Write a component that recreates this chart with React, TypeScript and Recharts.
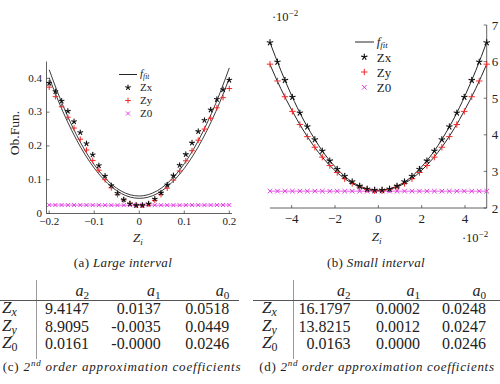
import React from "react";
import { ComposedChart, Line, Scatter, XAxis, YAxis } from "recharts";

const SERIF = '"Liberation Serif", "DejaVu Serif", serif';
const FIT_COLOR = "#262626";
const AXIS_COLOR = "#3a3a3a";
const RED = "#f02a2a";
const MAGENTA = "#e03ee0";
const TICK_MARGIN = 4;

// ---- (a) large interval: Z_i in [-0.2, 0.2]
const largeX = [
  -0.2, -0.1862, -0.1724, -0.1586, -0.1448, -0.131, -0.1172, -0.1034, -0.0897, -0.0759,
  -0.0621, -0.0483, -0.0345, -0.0207, -0.0069, 0.0069, 0.0207, 0.0345, 0.0483, 0.0621,
  0.0759, 0.0897, 0.1034, 0.1172, 0.131, 0.1448, 0.1586, 0.1724, 0.1862, 0.2,
];
const largeZx = [
  0.386, 0.361, 0.333, 0.303, 0.272, 0.24, 0.207, 0.174, 0.142, 0.111,
  0.083, 0.06, 0.041, 0.029, 0.024, 0.024, 0.029, 0.043, 0.061, 0.085,
  0.112, 0.143, 0.175, 0.209, 0.243, 0.276, 0.307, 0.338, 0.367, 0.395,
];
const largeZy = [
  0.374, 0.346, 0.316, 0.285, 0.253, 0.22, 0.188, 0.157, 0.128, 0.1,
  0.076, 0.056, 0.04, 0.03, 0.025, 0.025, 0.029, 0.039, 0.056, 0.075,
  0.099, 0.126, 0.156, 0.186, 0.217, 0.25, 0.282, 0.313, 0.343, 0.37,
];
const largeZ0 = [
  0.0252, 0.0252, 0.0251, 0.025, 0.0249, 0.0249, 0.0248, 0.0248, 0.0247, 0.0247,
  0.0247, 0.0246, 0.0246, 0.0246, 0.0246, 0.0246, 0.0246, 0.0246, 0.0246, 0.0247,
  0.0247, 0.0247, 0.0248, 0.0248, 0.0249, 0.0249, 0.025, 0.0251, 0.0252, 0.0252,
];
const largeFitX = [
  -0.2, -0.18, -0.16, -0.14, -0.12, -0.1, -0.08, -0.06, -0.04, -0.02, 0,
  0.02, 0.04, 0.06, 0.08, 0.1, 0.12, 0.14, 0.16, 0.18, 0.2,
];
const largeFitZx = [
  0.4257, 0.3544, 0.2906, 0.2344, 0.1857, 0.1446, 0.111, 0.0849, 0.0663, 0.0553, 0.0518,
  0.0558, 0.0674, 0.0865, 0.1131, 0.1473, 0.189, 0.2383, 0.295, 0.3593, 0.4311,
];
const largeFitZy = [
  0.402, 0.3342, 0.2735, 0.22, 0.1736, 0.1344, 0.1022, 0.0772, 0.0593, 0.0485, 0.0449,
  0.0484, 0.059, 0.0768, 0.1017, 0.1337, 0.1728, 0.219, 0.2724, 0.3329, 0.4006,
];
const largeXTicks = [-0.2, -0.1, 0, 0.1, 0.2];
const largeYTicks = [0, 0.1, 0.2, 0.3, 0.4];

// ---- (b) small interval: both axes in units of 10^-2
const smallX = [
  -5, -4.655, -4.31, -3.966, -3.621, -3.276, -2.931, -2.586, -2.241, -1.897,
  -1.552, -1.207, -0.862, -0.517, -0.172, 0.172, 0.517, 0.862, 1.207, 1.552,
  1.897, 2.241, 2.586, 2.931, 3.276, 3.621, 3.966, 4.31, 4.655, 5,
];
const smallZx = [
  6.52, 5.99, 5.49, 5.03, 4.6, 4.22, 3.87, 3.56, 3.29, 3.06,
  2.87, 2.72, 2.6, 2.52, 2.49, 2.49, 2.52, 2.6, 2.72, 2.87,
  3.06, 3.29, 3.56, 3.87, 4.22, 4.6, 5.03, 5.49, 5.99, 6.52,
];
const smallZy = [
  5.93, 5.47, 5.04, 4.64, 4.28, 3.95, 3.66, 3.39, 3.16, 2.97,
  2.8, 2.67, 2.57, 2.51, 2.47, 2.47, 2.51, 2.57, 2.67, 2.8,
  2.97, 3.16, 3.39, 3.66, 3.95, 4.28, 4.64, 5.04, 5.47, 5.93,
];
const smallZ0 = [
  2.46, 2.46, 2.46, 2.46, 2.46, 2.46, 2.46, 2.46, 2.46, 2.46,
  2.46, 2.46, 2.46, 2.46, 2.46, 2.46, 2.46, 2.46, 2.46, 2.46,
  2.46, 2.46, 2.46, 2.46, 2.46, 2.46, 2.46, 2.46, 2.46, 2.46,
];
const smallFitX = [
  -5, -4.5, -4, -3.5, -3, -2.5, -2, -1.5, -1, -0.5, 0,
  0.5, 1, 1.5, 2, 2.5, 3, 3.5, 4, 4.5, 5,
];
const smallFitZx = [
  6.52, 5.76, 5.07, 4.46, 3.94, 3.49, 3.13, 2.84, 2.64, 2.52, 2.48,
  2.52, 2.64, 2.84, 3.13, 3.49, 3.94, 4.46, 5.07, 5.76, 6.53,
];
const smallFitZy = [
  5.92, 5.26, 4.68, 4.16, 3.71, 3.33, 3.02, 2.78, 2.61, 2.5, 2.47,
  2.51, 2.61, 2.78, 3.03, 3.34, 3.72, 4.17, 4.69, 5.27, 5.93,
];
const smallXTicks = [-4, -2, 0, 2, 4];
const smallYTicks = [2, 3, 4, 5, 6, 7];

// ---- coefficient tables
const rowSubs = ["x", "y", "0"];
const largeA2 = ["9.4147", "8.9095", "0.0161"];
const largeA1 = ["0.0137", "-0.0035", "-0.0000"];
const largeA0 = ["0.0518", "0.0449", "0.0246"];
const smallA2 = ["16.1797", "13.8215", "0.0163"];
const smallA1 = ["0.0002", "0.0012", "0.0000"];
const smallA0 = ["0.0248", "0.0247", "0.0246"];

const pts = (xs: number[], ys: number[]) => xs.map((x, i) => ({ x, y: ys[i] }));
const fitRows = (xs: number[], zx: number[], zy: number[]) =>
  xs.map((x, i) => ({ x, zx: zx[i], zy: zy[i] }));

const fmtTick = (v: number) => (v < 0 ? `\u2212${Math.abs(v)}` : `${v}`);

// ---- marks
function StarMark({ cx, cy, r }: { cx: number; cy: number; r: number }) {
  const arms = [0, 72, 144, 216, 288].map((a) => {
    const t = ((a - 90) * Math.PI) / 180;
    return <line key={a} x1={cx} y1={cy} x2={cx + r * Math.cos(t)} y2={cy + r * Math.sin(t)} />;
  });
  return (
    <g stroke="#111" strokeWidth={1.1} strokeLinecap="round">
      {arms}
    </g>
  );
}

function PlusMark({ cx, cy, r }: { cx: number; cy: number; r: number }) {
  return (
    <g stroke={RED} strokeWidth={1}>
      <line x1={cx - r} x2={cx + r} y1={cy} y2={cy} />
      <line x1={cx} x2={cx} y1={cy - r} y2={cy + r} />
    </g>
  );
}

function CrossMark({ cx, cy, r }: { cx: number; cy: number; r: number }) {
  return (
    <g stroke={MAGENTA} strokeWidth={1}>
      <line x1={cx - r} x2={cx + r} y1={cy - r} y2={cy + r} />
      <line x1={cx - r} x2={cx + r} y1={cy + r} y2={cy - r} />
    </g>
  );
}

// ---- ticks drawn inward, labels outside
function bottomTick(fontSize: number, gap: number) {
  return (props: any) => {
    const { x, y, payload } = props;
    const axisY = y - TICK_MARGIN;
    return (
      <g>
        <line x1={x} x2={x} y1={axisY} y2={axisY - 3} stroke={AXIS_COLOR} strokeWidth={0.7} />
        <text x={x} y={axisY + gap} textAnchor="middle" fontSize={fontSize} fontFamily={SERIF} fill="#222">
          {fmtTick(payload.value)}
        </text>
      </g>
    );
  };
}

function leftTick(fontSize: number) {
  return (props: any) => {
    const { x, y, payload } = props;
    const axisX = x + TICK_MARGIN;
    return (
      <g>
        <line x1={axisX} x2={axisX + 3} y1={y} y2={y} stroke={AXIS_COLOR} strokeWidth={0.7} />
        <text x={axisX - 4.5} y={y + fontSize * 0.3} textAnchor="end" fontSize={fontSize} fontFamily={SERIF} fill="#222">
          {fmtTick(payload.value)}
        </text>
      </g>
    );
  };
}

function rightTick(fontSize: number) {
  return (props: any) => {
    const { x, y, payload } = props;
    const axisX = x - TICK_MARGIN;
    return (
      <g>
        <line x1={axisX} x2={axisX - 3} y1={y} y2={y} stroke={AXIS_COLOR} strokeWidth={0.7} />
        <text x={axisX + 5} y={y + fontSize * 0.35} textAnchor="start" fontSize={fontSize} fontFamily={SERIF} fill="#222">
          {fmtTick(payload.value)}
        </text>
      </g>
    );
  };
}

function FitLabel({ x, y, size }: { x: number; y: number; size: number }) {
  return (
    <text x={x} y={y} fontSize={size} fontFamily={SERIF} fontStyle="italic" fill="#222">
      f
      <tspan fontSize={size * 0.68} dy={size * 0.18}>
        fit
      </tspan>
    </text>
  );
}

function ChartLegend(p: { lineX: [number, number]; markX: number; textX: number; rows: number[]; size: number; k: number }) {
  const { lineX, markX, textX, rows, size, k } = p;
  const base = size * 0.35;
  return (
    <g>
      <line x1={lineX[0]} x2={lineX[1]} y1={rows[0]} y2={rows[0]} stroke={FIT_COLOR} strokeWidth={1} />
      <FitLabel x={textX} y={rows[0] + base - 1} size={size} />
      <StarMark cx={markX} cy={rows[1]} r={2.5 * k} />
      <text x={textX} y={rows[1] + base} fontSize={size} fontFamily={SERIF} fill="#222">Zx</text>
      <PlusMark cx={markX} cy={rows[2]} r={2.8 * k} />
      <text x={textX} y={rows[2] + base} fontSize={size} fontFamily={SERIF} fill="#222">Zy</text>
      <CrossMark cx={markX} cy={rows[3]} r={2 * k} />
      <text x={textX} y={rows[3] + base} fontSize={size} fontFamily={SERIF} fill="#222">Z0</text>
    </g>
  );
}

// ---- HTML text helpers
const abs = (left: number, top: number, extra: React.CSSProperties = {}): React.CSSProperties => ({
  position: "absolute",
  left,
  top,
  whiteSpace: "nowrap",
  lineHeight: 1,
  ...extra,
});

function Zsub({ sub, size }: { sub: string; size: number }) {
  return (
    <span style={{ fontSize: size }}>
      <i>Z</i>
      <span style={{ fontSize: size * 0.7, verticalAlign: -size * 0.22, fontStyle: sub === "0" ? "normal" : "italic" }}>{sub}</span>
    </span>
  );
}

function Asub({ sub, size }: { sub: string; size: number }) {
  return (
    <span style={{ fontSize: size }}>
      <i>a</i>
      <span style={{ fontSize: size * 0.7, verticalAlign: -size * 0.22 }}>{sub}</span>
    </span>
  );
}

function Sci({ size }: { size: number }) {
  return (
    <span style={{ fontSize: size }}>
      ·10<span style={{ fontSize: size * 0.72, verticalAlign: size * 0.42 }}>{"\u2212"}2</span>
    </span>
  );
}

function CoefTable(p: {
  lineFrom: number;
  lineTo: number;
  vLine: number;
  labelX: number;
  colRight: [number, number, number];
  a2: string[];
  a1: string[];
  a0: string[];
}) {
  const size = 16;
  const headerY = 291.7;
  const rowsY = [309, 326.7, 344.3];
  const cols = [p.a2, p.a1, p.a0];
  const heads = ["2", "1", "0"];
  const cell = (right: number, cy: number, content: React.ReactNode, key: string) => (
    <div key={key} style={abs(right, cy, { transform: "translate(-100%, -50%)", fontSize: size })}>
      {content}
    </div>
  );
  return (
    <>
      <div style={abs(p.vLine, 280, { width: 0, height: 79, borderLeft: "1px solid #9a9a9a" })} />
      <div style={abs(p.lineFrom, 300, { width: p.lineTo - p.lineFrom, height: 0, borderTop: "1px solid #555" })} />
      {heads.map((h, c) => cell(p.colRight[c], headerY, <Asub sub={h} size={size} />, `h${c}`))}
      {rowSubs.map((s, r) => (
        <div key={`l${r}`} style={abs(p.labelX, rowsY[r], { transform: "translateY(-50%)" })}>
          <Zsub sub={s} size={size + 1} />
        </div>
      ))}
      {cols.map((col, c) => col.map((v, r) => cell(p.colRight[c], rowsY[r], v, `v${c}${r}`)))}
    </>
  );
}

function Caption({ cx, cy, tag, children, spacing }: { cx: number; cy: number; tag: string; children: React.ReactNode; spacing: number }) {
  return (
    <div style={abs(cx, cy, { transform: "translate(-50%, -50%)", fontSize: 13, letterSpacing: spacing })}>
      {tag} <i>{children}</i>
    </div>
  );
}

const axisLine = { stroke: AXIS_COLOR, strokeWidth: 0.8 };

export default function App() {
  const largeFit = fitRows(largeFitX, largeFitZx, largeFitZy);
  const smallFit = fitRows(smallFitX, smallFitZx, smallFitZy);

  return (
    <div
      style={{
        position: "absolute",
        left: 0,
        top: 0,
        width: 500,
        height: 384,
        overflow: "hidden",
        background: "#fff",
        fontFamily: SERIF,
        color: "#222",
      }}
    >
      {/* (a) large interval */}
      <div style={{ position: "absolute", left: 0, top: 0 }}>
        <ComposedChart width={250} height={240} data={largeFit} margin={{ top: 61.5, right: 18, bottom: 25.5, left: 45.5 }}>
          <XAxis
            type="number"
            dataKey="x"
            domain={[-0.206, 0.206]}
            ticks={largeXTicks}
            interval={0}
            height={1}
            tickSize={0}
            tickMargin={TICK_MARGIN}
            axisLine={axisLine}
            tick={bottomTick(11, 11.5)}
          />
          <YAxis
            type="number"
            domain={[0, 0.45]}
            ticks={largeYTicks}
            interval={0}
            width={1}
            tickSize={0}
            tickMargin={TICK_MARGIN}
            axisLine={axisLine}
            tick={leftTick(11)}
          />
          <Line type="monotone" dataKey="zx" stroke={FIT_COLOR} strokeWidth={0.9} dot={false} isAnimationActive={false} />
          <Line type="monotone" dataKey="zy" stroke={FIT_COLOR} strokeWidth={0.9} dot={false} isAnimationActive={false} />
          <Scatter
            data={pts(largeX, largeZ0)}
            dataKey="y"
            line={{ stroke: MAGENTA, strokeWidth: 0.8 }}
            lineType="joint"
            shape={(s: any) => <CrossMark cx={s.cx} cy={s.cy} r={2} />}
            isAnimationActive={false}
          />
          <Scatter data={pts(largeX, largeZy)} dataKey="y" shape={(s: any) => <PlusMark cx={s.cx} cy={s.cy} r={2.8} />} isAnimationActive={false} />
          <Scatter data={pts(largeX, largeZx)} dataKey="y" shape={(s: any) => <StarMark cx={s.cx} cy={s.cy} r={2.5} />} isAnimationActive={false} />
        </ComposedChart>
        <svg width={250} height={240} style={{ position: "absolute", left: 0, top: 0, pointerEvents: "none" }}>
          <ChartLegend lineX={[119, 137]} markX={128} textX={140} rows={[74.5, 87.5, 100.5, 113.5]} size={11} k={1} />
        </svg>
      </div>
      <div style={abs(15, 133, { transform: "translate(-50%, -50%) rotate(-90deg)", fontSize: 13.5 })}>Ob.Fun.</div>
      <div style={abs(138, 238, { transform: "translate(-50%, -50%)" })}>
        <Zsub sub="i" size={13} />
      </div>
      <Caption cx={123} cy={262} tag="(a)" spacing={0.35}>
        Large interval
      </Caption>

      {/* (b) small interval */}
      <div style={{ position: "absolute", left: 250, top: 0 }}>
        <ComposedChart width={250} height={240} data={smallFit} margin={{ top: 25, right: 12.3, bottom: 31, left: 20 }}>
          <XAxis
            type="number"
            dataKey="x"
            domain={[-5, 5]}
            ticks={smallXTicks}
            interval={0}
            height={1}
            tickSize={0}
            tickMargin={TICK_MARGIN}
            axisLine={axisLine}
            tick={bottomTick(13, 15)}
          />
          <YAxis
            type="number"
            orientation="right"
            domain={[2, 7]}
            ticks={smallYTicks}
            interval={0}
            width={1}
            tickSize={0}
            tickMargin={TICK_MARGIN}
            axisLine={axisLine}
            tick={rightTick(13)}
          />
          <Line type="monotone" dataKey="zx" stroke={FIT_COLOR} strokeWidth={1} dot={false} isAnimationActive={false} />
          <Line type="monotone" dataKey="zy" stroke={FIT_COLOR} strokeWidth={1} dot={false} isAnimationActive={false} />
          <Scatter
            data={pts(smallX, smallZ0)}
            dataKey="y"
            line={{ stroke: MAGENTA, strokeWidth: 0.8 }}
            lineType="joint"
            shape={(s: any) => <CrossMark cx={s.cx} cy={s.cy} r={2.3} />}
            isAnimationActive={false}
          />
          <Scatter data={pts(smallX, smallZy)} dataKey="y" shape={(s: any) => <PlusMark cx={s.cx} cy={s.cy} r={3.2} />} isAnimationActive={false} />
          <Scatter data={pts(smallX, smallZx)} dataKey="y" shape={(s: any) => <StarMark cx={s.cx} cy={s.cy} r={2.9} />} isAnimationActive={false} />
        </ComposedChart>
        <svg width={250} height={240} style={{ position: "absolute", left: 0, top: 0, pointerEvents: "none" }}>
          <ChartLegend lineX={[105, 124]} markX={114.3} textX={126.7} rows={[42, 57, 72, 87.3]} size={13} k={1.15} />
        </svg>
      </div>
      <div style={abs(285, 16, { transform: "translate(-50%, -50%)" })}>
        <Sci size={12.5} />
      </div>
      <div style={abs(376.7, 237, { transform: "translate(-50%, -50%)" })}>
        <Zsub sub="i" size={13} />
      </div>
      <div style={abs(475, 237, { transform: "translate(-50%, -50%)" })}>
        <Sci size={12.5} />
      </div>
      <Caption cx={376} cy={262} tag="(b)" spacing={0.35}>
        Small interval
      </Caption>

      {/* coefficient tables */}
      <CoefTable lineFrom={0} lineTo={239} vLine={36} labelX={2} colRight={[89, 160.7, 229.3]} a2={largeA2} a1={largeA1} a0={largeA0} />
      <Caption cx={122} cy={366} tag="(c)" spacing={0.8}>
        2<span style={{ fontSize: 9, verticalAlign: 5 }}>nd</span> order approximation coefficients
      </Caption>

      <CoefTable lineFrom={253} lineTo={500} vLine={293} labelX={262} colRight={[350.5, 420, 486]} a2={smallA2} a1={smallA1} a0={smallA0} />
      <Caption cx={377} cy={366} tag="(d)" spacing={0.7}>
        2<span style={{ fontSize: 9, verticalAlign: 5 }}>nd</span> order approximation coefficients
      </Caption>
    </div>
  );
}
